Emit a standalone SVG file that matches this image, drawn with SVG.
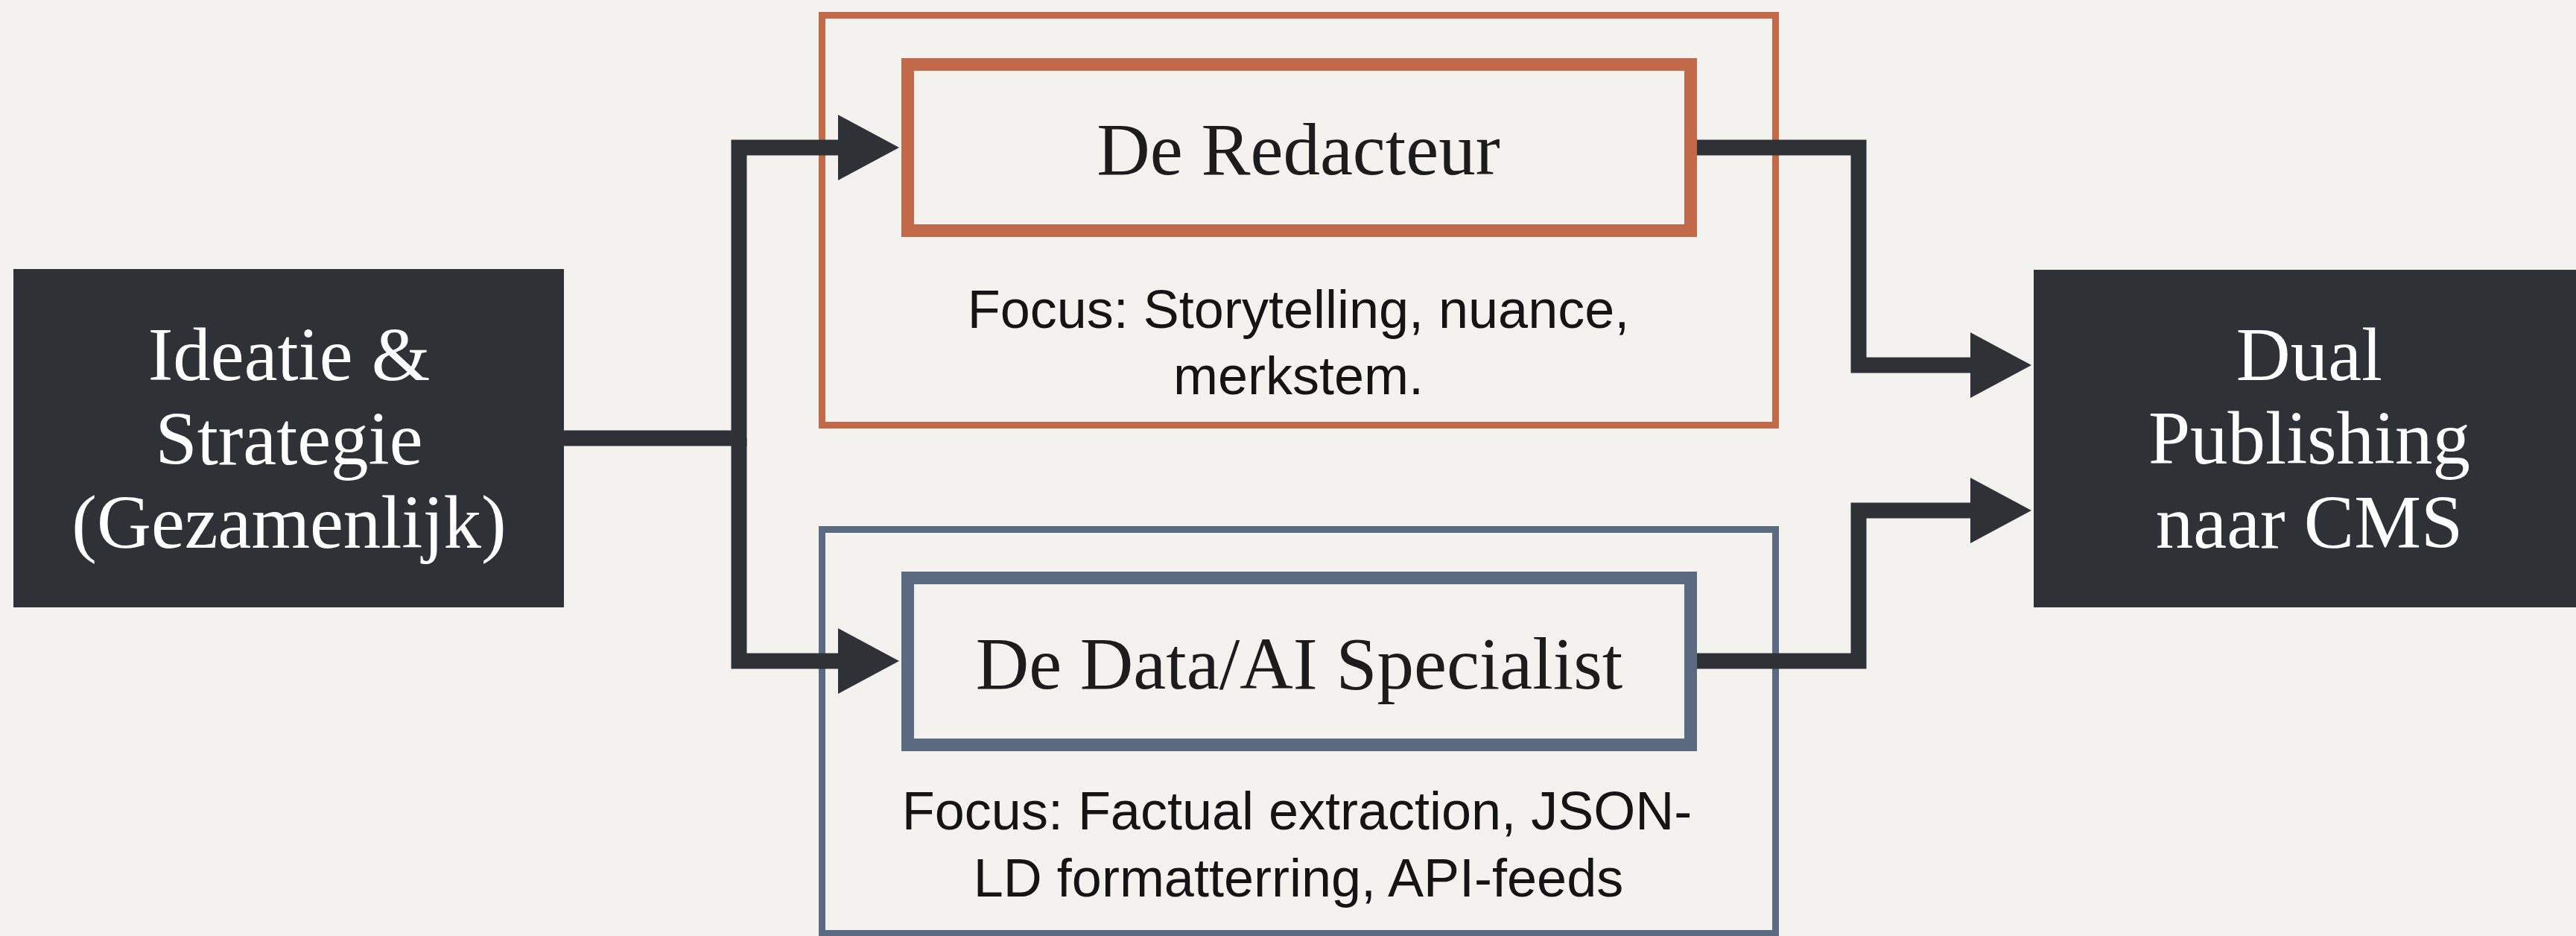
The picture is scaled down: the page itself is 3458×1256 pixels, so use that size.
<svg xmlns="http://www.w3.org/2000/svg" width="3458" height="1256" viewBox="0 0 3458 1256">
<defs>
<style>
.bg{fill:#F3F2EE}
.dark{fill:#2E3135}
.wt{fill:#FFFFFF;font-family:"Liberation Serif","Times New Roman",serif;font-size:101px;text-anchor:middle}
.title{fill:#1C1C1C;font-family:"Liberation Serif","Times New Roman",serif;font-size:99px;text-anchor:middle}
.focus{fill:#141414;font-family:"Liberation Sans",Arial,sans-serif;font-size:72px;text-anchor:middle}
.outerO{fill:none;stroke:#C2694A;stroke-width:9}
.innerO{fill:none;stroke:#C2694A;stroke-width:17}
.outerB{fill:none;stroke:#5B6A80;stroke-width:9}
.innerB{fill:none;stroke:#5B6A80;stroke-width:17}
.conn{fill:none;stroke:#2E3135;stroke-width:21;stroke-linejoin:miter}
</style>
<marker id="arrow" markerUnits="userSpaceOnUse" markerWidth="84" markerHeight="88" refX="2" refY="44" orient="auto">
<path d="M0,0 L82,44 L0,88 Z" fill="#2E3135"/>
</marker>
</defs>
<rect class="bg" x="0" y="0" width="3458" height="1256"/>

<g id="node-ideatie">
<rect class="dark" x="18" y="361" width="739" height="454"/>
<text class="wt" x="388" y="510">Ideatie &amp;</text>
<text class="wt" x="388" y="623">Strategie</text>
<text class="wt" x="388" y="735">(Gezamenlijk)</text>
</g>

<g id="group-redacteur">
<rect class="outerO" x="1103.5" y="20.5" width="1280" height="550"/>
<text class="focus" x="1743" y="440">Focus: Storytelling, nuance,</text>
<text class="focus" x="1743" y="529">merkstem.</text>
</g>
<g id="node-redacteur">
<rect class="innerO" x="1218.5" y="86.5" width="1051" height="223"/>
<text class="title" x="1743" y="234">De Redacteur</text>
</g>

<g id="group-specialist">
<rect class="outerB" x="1103.5" y="710.5" width="1280" height="542"/>
<text class="focus" x="1741" y="1113">Focus: Factual extraction, JSON-</text>
<text class="focus" x="1743" y="1203">LD formatterring, API-feeds</text>
</g>
<g id="node-specialist">
<rect class="innerB" x="1218.5" y="775.5" width="1051" height="224"/>
<text class="title" x="1744" y="924">De Data/AI Specialist</text>
</g>

<g id="node-publishing">
<rect class="dark" x="2730" y="362" width="740" height="453"/>
<text class="wt" x="3100" y="510">Dual</text>
<text class="wt" x="3100" y="622">Publishing</text>
<text class="wt" x="3100" y="735">naar CMS</text>
</g>

<g id="connectors">
<path class="conn" d="M757 588 H992 V198 H1127" marker-end="url(#arrow)"/>
<path class="conn" d="M992 588 V887 H1127" marker-end="url(#arrow)"/>
<path class="conn" d="M2278 198 H2495 V490 H2647" marker-end="url(#arrow)"/>
<path class="conn" d="M2278 887 H2495 V685 H2647" marker-end="url(#arrow)"/>
</g>
</svg>
